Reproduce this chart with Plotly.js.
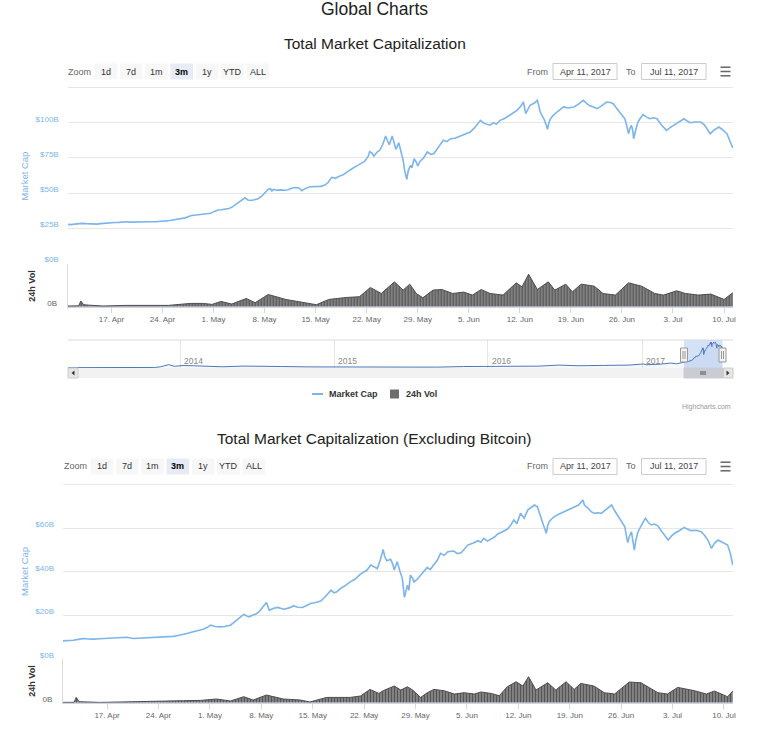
<!DOCTYPE html>
<html><head><meta charset="utf-8">
<script src="https://cdn.plot.ly/plotly-3.0.1.min.js"></script>
<style>html,body{margin:0;padding:0;background:#fff;}#chart{width:768px;height:735px;}</style>
</head><body><div id="chart"></div>
<script>
// ---------- DATA ----------
// days after 2017-04-11 00:00 UTC, total market cap in $B
const capDays1 = [0,0.5,1,1.5,2,2.5,3,3.5,4,4.5,
 5,5.5,6,6.5,7,7.5,8,8.5,9,9.5,
 10,10.5,11,11.5,12,12.5,13,13.5,14,14.5,
 15,15.5,16.1,16.6,17.1,17.6,18.1,18.6,19.1,19.6,
 20.1,20.6,21.1,21.6,22.1,22.6,23.1,23.6,24.1,24.3,
 24.7,25.1,25.6,26.1,26.6,27.1,27.5,27.8,28,28.2,
 28.7,29.2,29.7,30.2,30.7,31.2,31.7,32.1,32.5,33.2,
 33.7,34.2,34.7,35.2,35.7,36.2,36.7,37.3,37.7,38.2,
 38.7,39.2,39.7,40.2,40.7,41.2,41.4,41.7,42,42.4,
 42.8,43.2,43.4,43.6,43.9,44.1,44.5,44.8,45,45.4,
 45.7,46,46.2,46.5,46.7,47,47.2,47.5,47.8,48,
 48.3,48.8,49.3,49.8,50.2,50.8,51.5,52,52.5,53.1,
 53.8,54.5,55.2,55.8,56.6,57.1,57.9,58.4,58.8,59.3,
 59.9,60.6,61.1,61.6,62.1,62.5,62.8,63.1,63.4,64,
 64.4,64.6,64.8,65.1,65.3,65.6,65.8,66,66.2,66.6,
 67.1,67.6,68,68.6,69.4,70,70.7,71.2,71.6,72.1,
 72.6,73,73.4,73.9,74.4,74.8,75.3,75.7,76,76.4,
 76.7,76.9,77.1,77.3,77.5,77.6,77.9,78.2,78.5,78.9,
 79.4,79.8,80.3,80.8,81.4,81.8,82.1,82.6,83.1,83.7,
 84.1,84.5,85,85.4,86,86.8,87.3,87.7,88.1,88.7,
 89.3,89.8,90.4,90.8,91.2];
const cap1 = [27.8,27.6,28.0,28.4,28.5,28.3,28.1,27.9,28.0,28.3,
 28.6,28.8,29.0,29.1,29.2,29.5,29.6,29.4,29.5,29.6,
 29.5,29.4,29.6,29.7,29.6,29.7,29.9,30.3,30.6,31.0,
 31.4,31.8,32.4,33.3,34.2,34.4,34.7,35.0,35.3,35.7,
 37.0,38.0,38.2,38.6,39.1,40.2,42.0,43.9,45.5,46.7,
 45.1,44.8,45.3,46.0,47.8,50.5,52.8,53.1,51.5,52.6,
 52.0,52.3,52.0,52.4,53.5,54.0,53.6,51.7,53.0,54.5,
 54.7,54.4,54.8,55.5,57.5,61.2,60.5,62.1,62.8,64.5,
 66.4,68.0,69.5,71.0,72.5,76.0,79.4,78.5,76.3,79.0,
 80.6,84.5,87.7,90.6,86.5,84.4,90.6,85.0,81.1,85.8,
 80.0,73.3,66.0,59.8,66.0,69.7,68.0,74.4,72.0,69.2,
 72.5,75.0,79.2,77.5,78.0,82.5,87.5,86.5,88.6,89.0,
 90.6,92.0,93.4,96.5,101.7,99.5,98.2,100,99.0,101.7,
 103.0,105.3,107.0,108.8,111.5,114.7,106.4,109.5,112.4,114.0,
 115.9,112.0,107.6,104.5,102.8,98.5,95.3,100.0,102.8,105.5,
 107.6,109.5,111.2,110.5,111.2,113.0,115.9,113.5,112.0,111.2,
 110.0,111.2,113.0,114.7,114.3,113.5,110.0,107.6,106.0,102.8,
 97.0,92.2,96.0,98.2,94.0,88.6,95.0,100.5,103.0,105.7,
 104.0,102.8,103.5,102.8,98.5,96.0,94.6,96.5,98.2,100.5,
 101.5,102.8,101.0,100.0,100.5,100.5,98.5,95.0,92.2,95.0,
 96.9,95.0,92.2,87.0,82.0];

// 24h volume (total), $B
const volDays1 = [0,1.5,1.8,2.2,3,4.9,7.9,10.9,13.8,16.8,
 18.6,19.8,21,22.5,24.5,25.7,27.5,29.9,32.3,34.1,
 35.8,38.2,40,41.5,43,44.8,46,46.9,47.8,48.7,
 50.1,51.3,52.8,54.3,55.5,56.7,57.9,59.7,61.5,62.3,
 63.2,64.4,65.9,66.8,68.3,69.2,70.4,72.2,73.4,75.1,
 76.9,78.7,80.5,81.7,83.5,84.7,86.5,88.2,90,91.2];
const vol1 = [0.15,0.2,1.31,0.45,0.35,0.16,0.30,0.39,0.30,0.76,
 0.76,0.53,1.22,0.62,1.91,0.92,2.83,1.68,1.08,0.46,
 1.68,2.14,2.3,4.44,3.06,5.75,3.84,5.22,3.06,2.07,
 3.84,3.98,3.06,3.38,2.69,3.98,3.06,2.69,5.52,4.6,
 7.52,3.98,5.75,3.84,5.22,3.45,5.22,4.76,3.06,2.69,
 5.52,4.76,3.06,2.69,3.68,3.06,2.69,2.92,1.68,3.22];

// market cap excluding bitcoin, $B
const capDays2 = [0,0.7,1.4,2.1,2.8,3.5,4.1,5,6,7.3,
 8,8.7,9.6,10.5,11.5,12.8,14,15,15.7,16.4,
 17,17.6,18.3,19.1,19.6,20.1,20.7,21.4,22,22.8,
 23.2,23.7,24.2,24.6,25.3,25.8,26.4,26.9,27.3,27.7,
 28.1,28.6,29.2,30.1,30.8,31.4,32,32.6,33.1,33.7,
 34.4,35.1,35.8,36.2,36.5,36.9,37.3,37.8,38.4,39.1,
 39.8,40.5,40.9,41.4,41.9,42.4,42.8,43.2,43.6,43.8,
 44.1,44.6,44.9,45.1,45.5,45.9,46.2,46.5,46.7,46.9,
 47.1,47.3,47.6,47.8,48.2,48.7,49.1,49.6,50,50.5,
 51,51.4,51.9,52.4,53.2,53.7,54.2,54.7,55.1,55.8,
 56.5,56.9,57.3,57.8,58.3,58.8,59.2,59.8,60.5,61,
 61.4,61.8,62.3,62.8,63.3,63.8,64.2,64.6,64.9,65.1,
 65.3,65.5,65.8,66,66.2,66.5,66.9,67.5,68.3,68.9,
 69.6,70.2,70.8,71,71.5,71.9,72.4,72.8,73.3,74,
 74.7,75.1,75.6,76,76.5,76.7,76.9,77.1,77.4,77.6,
 77.8,78,78.3,78.8,79.3,79.7,80.1,80.5,81,81.5,
 82,82.4,82.9,83.3,84,84.6,85,85.5,86.2,86.9,
 87.4,87.8,88.3,88.7,89.2,89.7,90.5,90.9,91.2];
const cap2 = [8.4,8.5,8.7,9.1,9.5,9.3,9.2,9.4,9.6,9.8,
 9.9,10.1,9.5,9.7,9.8,9.9,10.2,10.5,10.9,11.3,
 11.9,12.5,13.0,13.7,14.5,15.6,15.0,14.8,15.0,15.6,
 16.6,17.9,19.5,20.5,19.4,20.0,20.9,22.5,24.0,26.0,
 22.4,23.2,23.7,22.9,23.5,24.4,23.8,23.7,24.5,25.5,
 26.0,26.6,28.9,30.5,31.6,30.4,30.9,32.4,33.6,35.4,
 36.7,38.9,39.6,40.8,43.1,42.0,41.5,45.4,50.2,47.0,
 45.0,45.7,43.5,40.8,44.6,40.0,37.0,28.3,31.5,33.9,
 31.5,38.5,37.0,35.4,36.5,38.5,40.0,42.0,41.0,43.1,
 45.5,48.4,47.5,49.2,49.5,48.3,48.7,50.5,52.2,53.0,
 54.2,53.5,55.3,54.0,54.9,56.0,57.3,58.2,59.4,61.5,
 63.7,62.0,66.7,64.5,68.3,69.5,70.5,69.7,67.0,64.5,
 62.5,60.6,57.6,61.0,62.9,64.0,65.2,66.3,67.5,68.5,
 69.8,70.5,72.8,70.5,69.0,67.5,66.7,67.0,66.7,68.5,
 70.5,68.0,65.2,63.5,60.6,56.5,53.3,56.0,58.3,54.0,
 49.9,54.5,58.3,61.5,64.5,62.5,61.4,61.8,61.0,58.5,
 56.0,54.5,56.5,57.6,59.0,60.3,59.5,58.8,59.0,58.3,
 56.5,54.5,50.7,53.0,54.5,53.5,52.2,48.0,43.1];

// 24h volume (excluding bitcoin), $B
const volDays2 = [0,1.5,1.8,2.2,5,9.5,12.3,16.4,18.7,20.9,
 22.8,24.6,25.9,27.7,30,32.3,33.6,35.9,39.1,40.5,
 41.8,43,43.6,45.1,46,46.9,47.6,48.7,49.6,50.5,
 51.9,53.3,54.6,56,56.9,58.3,59.4,60.5,61.7,62.6,
 63.4,64.4,66,67.1,68.5,69.6,70.5,72.3,73.7,75.1,
 77.1,78.7,81,82.3,83.7,86,87.6,88.7,90.5,91.2];
const vol2 = [0.07,0.1,1.22,0.23,0.07,0.16,0.23,0.46,0.53,0.85,
 0.39,1.38,0.62,1.77,0.85,0.62,0.16,1.22,1.22,1.54,
 3.06,2.14,2.76,3.84,2.92,3.68,2.92,1.22,2.3,3.06,
 2.76,2.0,2.3,2.0,2.46,2.14,1.61,3.68,4.83,3.84,
 5.98,2.92,4.6,2.92,4.83,3.06,4.44,3.84,2.3,2.0,
 4.76,4.6,2.3,2.0,3.52,2.76,2.0,2.69,1.38,2.69];

// navigator history before the zoomed window, $B
const navDates = ['2013-04-09','2013-06-01','2013-08-01','2013-10-01','2013-11-01','2013-11-15','2013-11-30','2013-12-04','2013-12-18','2014-01-05',
 '2014-02-01','2014-03-01','2014-04-10','2014-06-01','2014-07-01','2014-09-01','2014-11-01','2014-12-31','2015-01-14','2015-03-01',
 '2015-06-01','2015-08-01','2015-09-01','2015-11-04','2016-01-01','2016-03-01','2016-05-01','2016-06-17','2016-08-03','2016-10-01',
 '2016-12-01','2017-01-04','2017-01-12','2017-02-15','2017-03-10','2017-03-24'];
const navVals = [1.5,1.3,1.2,1.7,2.5,5.5,13.5,15,7.5,11,
 10,8,5.5,8.5,8.5,6.5,5,4.5,3.3,4,
 3.7,4.3,3.9,6.5,7,7.5,8.3,13,10,11.5,
 13,18,14.5,17.5,22,19];

// labels
const weekTicks = ['2017-04-17','2017-04-24','2017-05-01','2017-05-08','2017-05-15','2017-05-22','2017-05-29','2017-06-05','2017-06-12','2017-06-19','2017-06-26','2017-07-03','2017-07-10'];
const weekLabels = ['17. Apr','24. Apr','1. May','8. May','15. May','22. May','29. May','5. Jun','12. Jun','19. Jun','26. Jun','3. Jul','10. Jul'];
const capTicks1 = [0,25,50,75,100,125];
const capLabels1 = ['$0B','$25B','$50B','$75B','$100B',''];
const capTicks2 = [0,20,40,60,80];
const capLabels2 = ['$0B','$20B','$40B','$60B',''];
const yearTicks = ['2014-01-01','2015-01-01','2016-01-01','2017-01-01'];
const yearLabels = ['2014','2015','2016','2017'];
const buttonLabels = ['1d','7d','1m','3m','1y','YTD','ALL'];
const activeBtn = 3;
const fromLabel = 'Apr 11, 2017', toLabel = 'Jul 11, 2017';
const seriesNames = ['Market Cap','24h Vol'];

// ---------- HELPERS ----------
const W=768,H=735;
const X=p=>p/W, Y=p=>1-p/H;
const DAY=864e5, BASE=Date.UTC(2017,3,11);
const toDate = d => BASE + d*DAY;
const FONT = 'Liberation Sans, Arial, sans-serif';
const shapes=[], ann=[];
function rect(x0,y0,x1,y1,fill,lc,lw){return {type:'rect',xref:'paper',yref:'paper',x0:X(x0),x1:X(x1),y0:Y(y1),y1:Y(y0),fillcolor:fill,line:{color:lc||'rgba(0,0,0,0)',width:lc?(lw||1):0},layer:'above'};}
function hline(x0,x1,y,c,w){return {type:'line',xref:'paper',yref:'paper',x0:X(x0),x1:X(x1),y0:Y(y),y1:Y(y),line:{color:c,width:w||1}};}
function vline(x,y0,y1,c,w){return {type:'line',xref:'paper',yref:'paper',x0:X(x),x1:X(x),y0:Y(y0),y1:Y(y1),line:{color:c,width:w||1}};}
function txt(x,y,t,size,color,o){return Object.assign({xref:'paper',yref:'paper',x:X(x),y:Y(y),text:t,showarrow:false,xanchor:'center',yanchor:'middle',font:{family:FONT,size:size,color:color}},o||{});}

// titles
ann.push(txt(374,9,'Global Charts',17.5,'#222'));
ann.push(txt(374.5,43,'Total Market Capitalization',15.5,'#222'));
ann.push(txt(374,438,'Total Market Capitalization (Excluding Bitcoin)',15.5,'#222'));

function rangeRow(yc,zoomCx,btn0){
  ann.push(txt(zoomCx,yc,'Zoom',9,'#666'));
  buttonLabels.forEach((b,i)=>{
    const x0=btn0+i*25.3, on=i===activeBtn;
    shapes.push(rect(x0,yc-8,x0+22.5,yc+8,on?'#e6ebf5':'#f7f7f7'));
    ann.push(txt(x0+11.25,yc,on?'<b>'+b+'</b>':b,9,on?'#000':'#333'));
  });
  ann.push(txt(537,yc,'From',9,'#666'));
  shapes.push(rect(553,yc-8,617,yc+8,'#fff','#cccccc'));
  ann.push(txt(585,yc,fromLabel,9,'#444'));
  ann.push(txt(631,yc,'To',9,'#666'));
  shapes.push(rect(641.5,yc-8,706,yc+8,'#fff','#cccccc'));
  ann.push(txt(674,yc,toLabel,9,'#444'));
  [-4.3,0,4.3].forEach(o=>shapes.push(hline(720.5,730.5,yc+o,'#666',1.5)));
}
rangeRow(71.5,79,94.6);
rangeRow(466.5,75,90.7);

// top grid lines of the two market-cap panels
shapes.push(Object.assign(hline(67.7,733,87.5,'#e6e6e6',1),{layer:'below'}));
shapes.push(Object.assign(hline(63,733,484.3,'#e6e6e6',1),{layer:'below'}));

// axis titles
ann.push(txt(23.7,176,'Market Cap',9.5,'#7cb5ec',{textangle:-90}));
ann.push(txt(31.7,286,'<b>24h Vol</b>',9,'#333',{textangle:-90}));
ann.push(txt(24,572,'Market Cap',9.5,'#7cb5ec',{textangle:-90}));
ann.push(txt(31.7,681,'<b>24h Vol</b>',9,'#333',{textangle:-90}));

// navigator decorations
shapes.push(hline(68,733,340,'#d9d9d9',1));
shapes.push({type:'rect',xref:'x2',yref:'paper',x0:'2017-04-11',x1:'2017-07-11',y0:Y(368),y1:Y(340),fillcolor:'rgba(110,160,230,0.30)',line:{width:0},layer:'below'});
[684,722.5].forEach(hx=>{
  shapes.push(rect(hx-3.5,348,hx+3.5,362,'#f2f2f2','#999999',1));
  shapes.push(vline(hx-1,351,359,'#999',1));
  shapes.push(vline(hx+1,351,359,'#999',1));
});
yearTicks.forEach((d,i)=>ann.push({xref:'x2',yref:'paper',x:d,y:Y(361),text:yearLabels[i],showarrow:false,xanchor:'left',yanchor:'middle',xshift:2,font:{family:FONT,size:8.5,color:'#888'}}));
// scrollbar
shapes.push(rect(68,368,733,378,'#f2f2f2'));
shapes.push(rect(68,368,78,378,'#e6e6e6','#cccccc'));
shapes.push(rect(723.5,368,733,378,'#e6e6e6','#cccccc'));
shapes.push(rect(684,368,722.5,378,'#c9ccd2','#c9ccd2'));
[-2,0,2].forEach(o=>shapes.push(vline(703+o,371,375,'#333',0.8)));
shapes.push({type:'path',xref:'paper',yref:'paper',path:`M${X(74.5)},${Y(370.5)} L${X(71.5)},${Y(373)} L${X(74.5)},${Y(375.5)} Z`,fillcolor:'#333',line:{width:0}});
shapes.push({type:'path',xref:'paper',yref:'paper',path:`M${X(726.5)},${Y(370.5)} L${X(729.5)},${Y(373)} L${X(726.5)},${Y(375.5)} Z`,fillcolor:'#333',line:{width:0}});

// legend
shapes.push(hline(312,323,394,'#7cb5ec',2));
ann.push(txt(327,394,'<b>'+seriesNames[0]+'</b>',9,'#333',{xanchor:'left'}));
shapes.push(rect(390,389.5,399,398.5,'#6e6e6e'));
ann.push(txt(403.5,394,'<b>'+seriesNames[1]+'</b>',9,'#333',{xanchor:'left'}));
ann.push(txt(733,407,'Highcharts.com',7,'#999',{xanchor:'right'}));

// ---------- TRACES ----------
const volStyle = {mode:'lines',fill:'tozeroy',line:{color:'#4d4d4d',width:1},
  fillcolor:'#7a7a7a',fillpattern:{shape:'|',size:3,solidity:0.5,fgcolor:'#555555',bgcolor:'#8e8e8e'},hoverinfo:'skip',showlegend:false};
const traces = [
  {x:capDays1.map(toDate),y:cap1,xaxis:'x',yaxis:'y',mode:'lines',line:{color:'#7cb5ec',width:1.6},name:seriesNames[0],showlegend:false},
  Object.assign({x:volDays1.map(toDate),y:vol1,xaxis:'x',yaxis:'y2',name:seriesNames[1]},volStyle),
  {x:navDates.map(d=>Date.parse(d+'T00:00:00Z')).concat(capDays1.map(toDate)),y:navVals.concat(cap1),xaxis:'x2',yaxis:'y3',mode:'lines',
   line:{color:'#4f77bb',width:1},fill:'tozeroy',fillcolor:'rgba(51,92,173,0.05)',showlegend:false},
  {x:capDays2.map(toDate),y:cap2,xaxis:'x3',yaxis:'y4',mode:'lines',line:{color:'#7cb5ec',width:1.6},name:seriesNames[0],showlegend:false},
  Object.assign({x:volDays2.map(toDate),y:vol2,xaxis:'x3',yaxis:'y5',name:seriesNames[1]},volStyle)
];

const range = ['2017-04-11 00:00','2017-07-11 05:30'];
const xCommon = {type:'date',range:range,tickvals:weekTicks,ticktext:weekLabels,ticks:'outside',ticklen:5,tickcolor:'#ccd6eb',
  showline:true,linecolor:'#ccd6eb',showgrid:false,zeroline:false,tickfont:{family:FONT,size:8,color:'#666'},automargin:false,fixedrange:true};
const capY = (ticks,labels,dom,top)=>({domain:dom,range:[0,top],tickvals:ticks,ticktext:labels,showgrid:true,gridcolor:'#e6e6e6',gridwidth:1,
  zeroline:false,ticks:'',ticklabelstandoff:8,ticklabelshift:-4,tickfont:{family:FONT,size:8,color:'#7cb5ec'},automargin:false,fixedrange:true});
const volY = dom=>({domain:dom,range:[0,10],tickvals:[0],ticktext:['0B'],showgrid:false,zeroline:false,showline:true,linecolor:'#dcdcdc',
  ticks:'',ticklabelstandoff:8,ticklabelshift:-4,tickfont:{family:FONT,size:8,color:'#666'},automargin:false,fixedrange:true});

const layout = {
  width:W,height:H,margin:{l:0,r:0,t:0,b:0},paper_bgcolor:'#fff',plot_bgcolor:'rgba(0,0,0,0)',
  showlegend:false,hovermode:false,font:{family:FONT},
  xaxis:Object.assign({},xCommon,{domain:[X(67.7),X(733)],anchor:'y2'}),
  yaxis:Object.assign(capY(capTicks1,capLabels1,[Y(263.5),Y(86.8)],125.5),{anchor:'x'}),
  yaxis2:Object.assign(volY([Y(306.7),Y(263.5)]),{anchor:'x'}),
  xaxis2:{type:'date',domain:[X(68),X(733)],anchor:'y3',range:['2013-04-09','2017-08-05'],tickvals:yearTicks,showticklabels:false,
    ticks:'',showgrid:true,gridcolor:'#e6e6e6',zeroline:false,showline:false,fixedrange:true,automargin:false},
  yaxis3:{domain:[Y(368),Y(340)],anchor:'x2',range:[0,125],visible:false,fixedrange:true},
  xaxis3:Object.assign({},xCommon,{domain:[X(63),X(733)],anchor:'y5'}),
  yaxis4:Object.assign(capY(capTicks2,capLabels2,[Y(659.3),Y(483.6)],80.3),{anchor:'x3'}),
  yaxis5:Object.assign(volY([Y(702.7),Y(659.3)]),{anchor:'x3'}),
  shapes:shapes,annotations:ann
};
Plotly.newPlot('chart',traces,layout,{displayModeBar:false,staticPlot:true});
</script></body></html>
